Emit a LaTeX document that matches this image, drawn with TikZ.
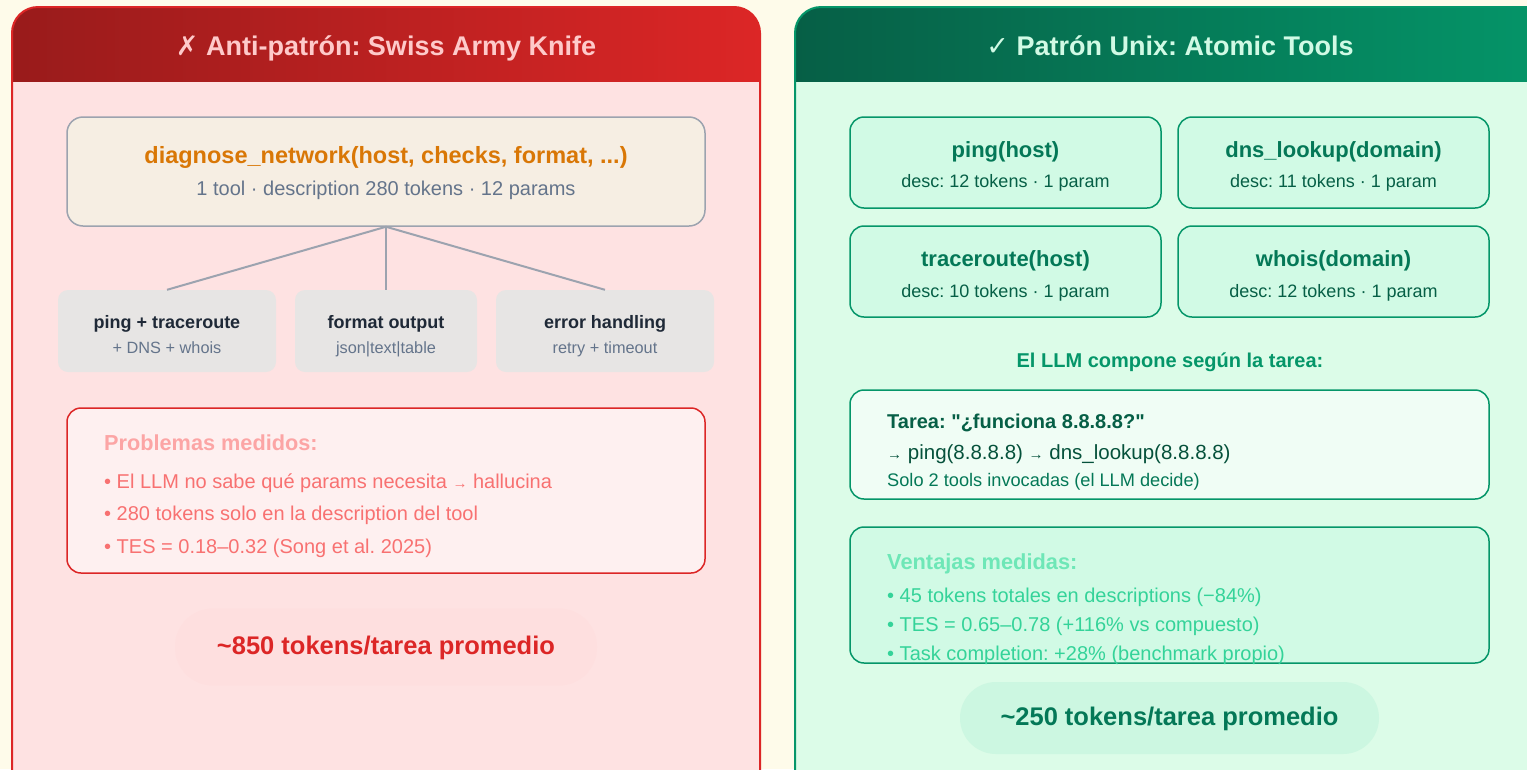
\documentclass[tikz,border=0pt]{standalone}
\usepackage{fontspec}
\setmainfont{Liberation Sans}
\newfontfamily\symfont{DejaVu Sans}
\usetikzlibrary{positioning,calc}
\newcommand{\fsz}[1]{\fontsize{#1}{#1}\selectfont}
\frenchspacing
% colours
\definecolor{bgcream}{HTML}{FEFBEA}
\definecolor{redborder}{HTML}{DC2626}
\definecolor{reddark}{HTML}{991B1B}
\definecolor{redbody}{HTML}{FEE2E2}
\definecolor{redtitle}{HTML}{FECACA}
\definecolor{mainfill}{HTML}{F6EEE3}
\definecolor{grayline}{HTML}{9CA3AF}
\definecolor{subfill}{HTML}{E7E5E4}
\definecolor{darktext}{HTML}{1F2937}
\definecolor{graytext}{HTML}{64748B}
\definecolor{orangetext}{HTML}{D97706}
\definecolor{probfill}{HTML}{FEF0F0}
\definecolor{problight}{HTML}{FCA5A5}
\definecolor{probtext}{HTML}{F87171}
\definecolor{redpill}{HTML}{FEDFDF}
\definecolor{greendark}{HTML}{065F46}
\definecolor{greenborder}{HTML}{059669}
\definecolor{greenbody}{HTML}{DCFCE8}
\definecolor{greentitle}{HTML}{D1FAE5}
\definecolor{toolfill}{HTML}{D1FAE5}
\definecolor{tooltitle}{HTML}{047857}
\definecolor{tooltext}{HTML}{065F46}
\definecolor{taskfill}{HTML}{F0FDF5}
\definecolor{ventlight}{HTML}{6EE7B7}
\definecolor{venttext}{HTML}{34D399}
\definecolor{greenpill}{HTML}{CCF7E1}
\tikzset{
  panelborder/.style={line width=2pt, rounded corners=26pt},
  mainbox/.style={draw=grayline, line width=1.5pt, fill=mainfill, rounded corners=16pt,
    minimum width=638pt, minimum height=109pt},
  subbox/.style={fill=subfill, rounded corners=10pt, minimum height=82pt},
  probbox/.style={draw=redborder, line width=1.5pt, fill=probfill, rounded corners=14pt,
    minimum width=638pt, minimum height=165pt},
  toolbox/.style={draw=greenborder, line width=1.5pt, fill=toolfill, rounded corners=14pt,
    minimum width=311pt, minimum height=91pt},
  widebox/.style={draw=greenborder, line width=1.5pt, rounded corners=14pt,
    minimum width=639pt},
  conn/.style={draw=grayline, line width=2pt},
  txt/.style={inner sep=0pt, anchor=mid, yshift=-5pt},
  ltxt/.style={inner sep=0pt, anchor=mid west, yshift=-5pt},
}
\begin{document}
\begin{tikzpicture}[x=1pt,y=-1pt]
\useasboundingbox (0,0) rectangle (1527,769);
\clip (0,0) rectangle (1527,769);
\fill[bgcream] (0,0) rectangle (1527,769);

%left panel
\begin{scope}
  \clip[rounded corners=26pt] (12,7) rectangle (760,800);
  \fill[redbody] (12,7) rectangle (760,800);
  \shade[left color=reddark, right color=redborder] (12,7) rectangle (760,81);
\end{scope}
\draw[panelborder, redborder] (12,7) rectangle (760,800);
\node[txt, text=redtitle, font=\bfseries\fsz{27}] (lefttitle) at (386,48)
  {{\symfont\bfseries ✗} Anti-patrón: Swiss Army Knife};

%monolithic tool
\node[mainbox] (diag) at (386,171.5) {};
\node[txt, text=orangetext, font=\bfseries\fsz{23.5}] (diagname) at (386,156)
  {diagnose\_network(host, checks, format, ...)};
\node[txt, text=graytext, font=\fsz{20}] (diaginfo) at (386,188)
  {1 tool · description 280 tokens · 12 params};

%bundled parts
\node[subbox, minimum width=218pt] (partA) at (167,331) {};
\node[subbox, minimum width=182pt] (partB) at (386,331) {};
\node[subbox, minimum width=218pt] (partC) at (605,331) {};
\draw[conn] (diag.south) -- (partA.north);
\draw[conn] (diag.south) -- (partB.north);
\draw[conn] (diag.south) -- (partC.north);
\node[txt, text=darktext, font=\bfseries\fsz{18}] (partAname) at (167,321) {ping + traceroute};
\node[txt, text=graytext, font=\fsz{16.3}] (partAsub) at (167,346) {+ DNS + whois};
\node[txt, text=darktext, font=\bfseries\fsz{18}] (partBname) at (386,321) {format output};
\node[txt, text=graytext, font=\fsz{16.3}] (partBsub) at (386,346) {json|text|table};
\node[txt, text=darktext, font=\bfseries\fsz{18}] (partCname) at (605,321) {error handling};
\node[txt, text=graytext, font=\fsz{16.3}] (partCsub) at (605,346) {retry + timeout};

%problems
\node[probbox] (prob) at (386,490.5) {};
\node[ltxt, text=problight, font=\bfseries\fsz{21.7}] (probhead) at (104,443) {Problemas medidos:};
\node[ltxt, text=probtext, font=\fsz{20}] (probA) at (104,481)
  {• El LLM no sabe qué params necesita {\fsz{15}→} hallucina};
\node[ltxt, text=probtext, font=\fsz{20}] (probB) at (104,513)
  {• 280 tokens solo en la description del tool};
\node[ltxt, text=probtext, font=\fsz{20}] (probC) at (104,546)
  {• TES = 0.18–0.32 (Song et al. 2025)};

%red total
\node[fill=redpill, rounded corners=38pt, minimum width=422pt, minimum height=77pt] (redtotal) at (386,647) {};
\node[txt, text=redborder, font=\bfseries\fsz{25.5}] (redtotaltxt) at (386,647) {\textasciitilde 850 tokens/tarea promedio};

%right panel
\begin{scope}
  \clip[rounded corners=26pt] (795,7) rectangle (1560,800);
  \fill[greenbody] (795,7) rectangle (1560,800);
  \shade[left color=greendark, right color=greenborder] (795,7) rectangle (1560,81);
\end{scope}
\draw[panelborder, greenborder] (795,7) rectangle (1560,800);
\node[txt, text=greentitle, font=\bfseries\fsz{27}] (righttitle) at (1170,48)
  {{\symfont ✓} Patrón Unix: Atomic Tools};

%atomic tools
\node[toolbox] (ping) at (1005.5,162.5) {};
\node[toolbox] (dns) at (1333.5,162.5) {};
\node[toolbox] (trace) at (1005.5,271.5) {};
\node[toolbox] (whois) at (1333.5,271.5) {};
\node[txt, text=tooltitle, font=\bfseries\fsz{22}] (pingname) at (1005.5,150) {ping(host)};
\node[txt, text=tooltext, font=\fsz{18}] (pingdesc) at (1005.5,180) {desc: 12 tokens · 1 param};
\node[txt, text=tooltitle, font=\bfseries\fsz{22}] (dnsname) at (1333.5,150) {dns\_lookup(domain)};
\node[txt, text=tooltext, font=\fsz{18}] (dnsdesc) at (1333.5,180) {desc: 11 tokens · 1 param};
\node[txt, text=tooltitle, font=\bfseries\fsz{22}] (tracename) at (1005.5,259) {traceroute(host)};
\node[txt, text=tooltext, font=\fsz{18}] (tracedesc) at (1005.5,290) {desc: 10 tokens · 1 param};
\node[txt, text=tooltitle, font=\bfseries\fsz{22}] (whoisname) at (1333.5,259) {whois(domain)};
\node[txt, text=tooltext, font=\fsz{18}] (whoisdesc) at (1333.5,290) {desc: 12 tokens · 1 param};

\node[txt, text=greenborder, font=\bfseries\fsz{20}] (compose) at (1170,360) {El LLM compone según la tarea:};

%task example
\node[widebox, fill=taskfill, minimum height=109pt] (task) at (1169.5,444.5) {};
\node[ltxt, text=greendark, font=\bfseries\fsz{20}] (taskhead) at (887,421)
  {Tarea: \textquotedbl ¿funciona 8.8.8.8?\textquotedbl};
\node[ltxt, text=greendark!85!black, font=\fsz{20.5}] (taskchain) at (887,452)
  {{\fsz{15}→} ping(8.8.8.8) {\fsz{15}→} dns\_lookup(8.8.8.8)};
\node[ltxt, text=tooltitle, font=\fsz{18.2}] (tasknote) at (887,479) {Solo 2 tools invocadas (el LLM decide)};

%advantages
\node[widebox, fill=toolfill, minimum height=136pt] (vent) at (1169.5,595) {};
\node[ltxt, text=ventlight, font=\bfseries\fsz{21.8}] (venthead) at (887,562) {Ventajas medidas:};
\node[ltxt, text=venttext, font=\fsz{20}] (ventA) at (887,595) {• 45 tokens totales en descriptions (−84\%)};
\node[ltxt, text=venttext, font=\fsz{20}] (ventB) at (887,624) {• TES = 0.65–0.78 (+116\% vs compuesto)};
\node[ltxt, text=venttext, font=\fsz{20}] (ventC) at (887,653) {• Task completion: +28\% (benchmark propio)};

%green total
\node[fill=greenpill, rounded corners=36pt, minimum width=419pt, minimum height=72pt] (greentotal) at (1169.5,718) {};
\node[txt, text=tooltitle, font=\bfseries\fsz{25.5}] (greentotaltxt) at (1169.5,718) {\textasciitilde 250 tokens/tarea promedio};
\end{tikzpicture}
\end{document}
